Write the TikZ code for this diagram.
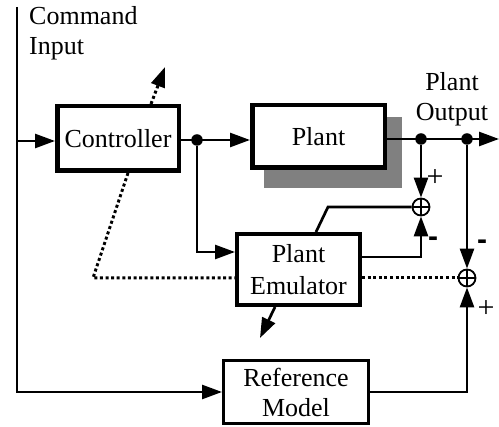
\documentclass[tikz,border=0pt]{standalone}
\usepackage{fontspec}
\setmainfont{Liberation Serif}
\setsansfont{Liberation Sans}
\usetikzlibrary{arrows.meta}
\newcommand{\plussign}{{\fontsize{30}{30}\selectfont +}}
\newcommand{\minussign}{{\sffamily\bfseries\fontsize{30}{30}\selectfont -}}
\begin{document}
\begin{tikzpicture}[x=1pt,y=-1pt,
  every node/.style={font=\fontsize{26}{30}\selectfont},
  blk/.style={draw, fill=white, line width=4.5pt, inner sep=0pt, align=center},
  wire/.style={line width=2.7pt},
  arr/.style={wire, -{Triangle[length=20pt,width=14pt]}},
  dotw/.style={line width=3pt, dash pattern=on 3pt off 2.6pt},
  darr/.style={dotw, -{Triangle[length=20pt,width=14pt]}},
  sumnode/.style={circle, draw, line width=1.8pt, minimum size=17pt, inner sep=0pt,
    path picture={\draw[line width=1.6pt] (path picture bounding box.north) -- (path picture bounding box.south)
      (path picture bounding box.west) -- (path picture bounding box.east);}},
  dotnode/.style={circle, fill, minimum size=11.5pt, inner sep=0pt},
  sign/.style={inner sep=0pt},
  lbl/.style={inner sep=0pt, align=center}
]
\useasboundingbox (0,0) rectangle (499,427);

% shadow of plant
\fill[black!50] (264,117) rectangle (402,188);

% blocks
\node[blk, minimum width=121.5pt, minimum height=64.5pt] (ctrl) at (118,138.5) {Controller};
\node[blk, minimum width=132.5pt, minimum height=62.5pt] (plant) at (318.5,136.5) {Plant};
\node[blk, line width=4pt, minimum width=123pt, minimum height=71pt] (emu) at (298.5,269.5) {Plant\\[2pt]Emulator};
\node[blk, line width=3pt, minimum width=145pt, minimum height=63pt] (ref) at (296,392) {Reference\\Model};

% summing junctions
\node[sumnode] (sum1) at (421,207) {};
\node[sumnode] (sum2) at (467,278) {};

% branch points and free ends
\node[dotnode] (cdot) at (197,140) {};
\node[dotnode] (od1) at (421,139) {};
\node[dotnode] (od2) at (467,139) {};
\coordinate (ctop) at (17,7);
\coordinate (cin) at (17,141);
\coordinate (oend) at (499,139);
\coordinate (cup) at (165,67);
\coordinate (dc) at (93,278);
\coordinate (k1) at (328,207);
\coordinate (edown) at (260,338);

% texts
\node[lbl, anchor=north west, align=left] (cmd) at (29,6) {Command\\Input};
\node[lbl] (pout) at (452,99) {Plant\\Output};

% command input
\draw[arr] (ctop) |- (ref.west);
\draw[arr] (cin) -- (ctrl.west |- cin);

% controller -> plant
\draw[arr] (ctrl.east |- cdot) -- (plant.west |- cdot);
\draw[arr] (cdot) |- ([yshift=17.5pt]emu.west);

% plant output
\draw[arr] (plant.east |- od1) -- (oend);
\draw[arr] (od1) -- (sum1.north);
\draw[arr] (od2) -- (sum2.north);

% emulator outputs
\draw[wire] ([xshift=17.5pt]emu.north) -- (k1) -- (sum1.west);
\draw[arr] ([yshift=12.5pt]emu.east) -| (sum1.south);
\draw[arr] ([xshift=-23.5pt]emu.south) -- (edown);

% reference model
\draw[arr] (ref.east) -| (sum2.south);

% dotted error / adaptation paths
\draw[darr] ([xshift=33pt]ctrl.north) -- (cup);
\draw[dotw] ([xshift=10pt]ctrl.south) -- (dc) -- (dc -| emu.west);
\draw[dotw] (emu.east |- sum2.west) -- (sum2.west);

% signs
\node[sign] (p1) at (435,178) {\plussign};
\node[sign] (m1) at (433,242) {\minussign};
\node[sign] (m2) at (482,245) {\minussign};
\node[sign] (p2) at (486,309) {\plussign};
\end{tikzpicture}
\end{document}
